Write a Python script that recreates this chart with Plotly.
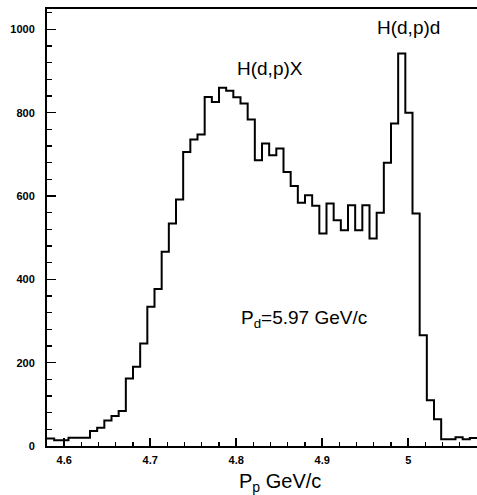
import plotly.graph_objects as go

# Histogram: 60 bins from 4.58 to 5.08 GeV/c (bin width 1/120 GeV/c)
bin_lo = 4.58
bin_width = 1.0 / 120
counts = [18, 14, 14, 20, 20, 20, 36, 44, 61, 72,
          84, 162, 190, 246, 334, 377, 466, 534, 592, 706,
          736, 748, 838, 826, 860, 853, 837, 822, 784, 686,
          726, 698, 714, 658, 624, 584, 602, 577, 510, 582,
          542, 518, 578, 518, 578, 498, 560, 680, 774, 942,
          800, 558, 266, 110, 64, 16, 16, 21, 16, 19]

x_tickvals = [4.6, 4.7, 4.8, 4.9, 5.0]
x_ticktext = ["4.6", "4.7", "4.8", "4.9", "5"]
y_tickvals = [0, 200, 400, 600, 800, 1000]
y_ticktext = ["0", "200", "400", "600", "800", "1000"]

edges = [bin_lo + i * bin_width for i in range(len(counts) + 1)]
ys = counts + [counts[-1]]

fig = go.Figure()
fig.add_trace(go.Scatter(x=edges, y=ys, mode="lines", line_shape="hv",
                         line=dict(color="black", width=2), hoverinfo="skip",
                         showlegend=False, cliponaxis=True))

font_txt = dict(family="Liberation Sans, Arial, sans-serif", size=19, color="black")
tick_font = dict(family="Liberation Sans, Arial, sans-serif", size=11, color="black", weight="bold")

fig.update_layout(
    width=477, height=495,
    margin=dict(l=47, r=0, t=9, b=49, autoexpand=False),
    paper_bgcolor="white", plot_bgcolor="white",
    showlegend=False,
    xaxis=dict(range=[4.58, 5.08], tickmode="array", tickvals=x_tickvals, ticktext=x_ticktext,
               ticks="inside", ticklen=8, tickwidth=1.5, tickcolor="black",
               minor=dict(dtick=0.02, tick0=4.6, ticks="inside", ticklen=4, tickwidth=1.2, tickcolor="black"),
               showline=True, linecolor="black", linewidth=2, mirror=True, automargin=False,
               showgrid=False, zeroline=False, tickfont=tick_font, ticklabelstandoff=3),
    yaxis=dict(range=[0, 1049], tickmode="array", tickvals=y_tickvals, ticktext=y_ticktext,
               ticks="inside", ticklen=9, tickwidth=1.5, tickcolor="black",
               minor=dict(dtick=40, tick0=0, ticks="inside", ticklen=5, tickwidth=1.2, tickcolor="black"),
               showline=True, linecolor="black", linewidth=2, mirror=False, automargin=False,
               showgrid=False, zeroline=False, tickfont=tick_font, ticklabelstandoff=8),
    annotations=[
        dict(x=4.839, y=906, xref="x", yref="y", text="H(d,p)X", showarrow=False,
             xanchor="center", yanchor="middle", font=font_txt),
        dict(x=5.0, y=1005, xref="x", yref="y", text="H(d,p)d", showarrow=False,
             xanchor="center", yanchor="middle", font=font_txt),
        dict(x=4.879, y=306, xref="x", yref="y", text="P<sub>d</sub>=5.97 GeV/c", showarrow=False,
             xanchor="center", yanchor="middle", font=font_txt),
        dict(x=4.851, y=-0.084, xref="x", yref="paper", text="P<sub>p</sub> GeV/c", showarrow=False,
             xanchor="center", yanchor="middle",
             font=dict(family="Liberation Sans, Arial, sans-serif", size=20, color="black")),
    ],
)

fig.write_html("out.html", config={"displayModeBar": False, "staticPlot": True},
               post_script="document.body.style.margin='0px';document.body.style.overflow='hidden';")
